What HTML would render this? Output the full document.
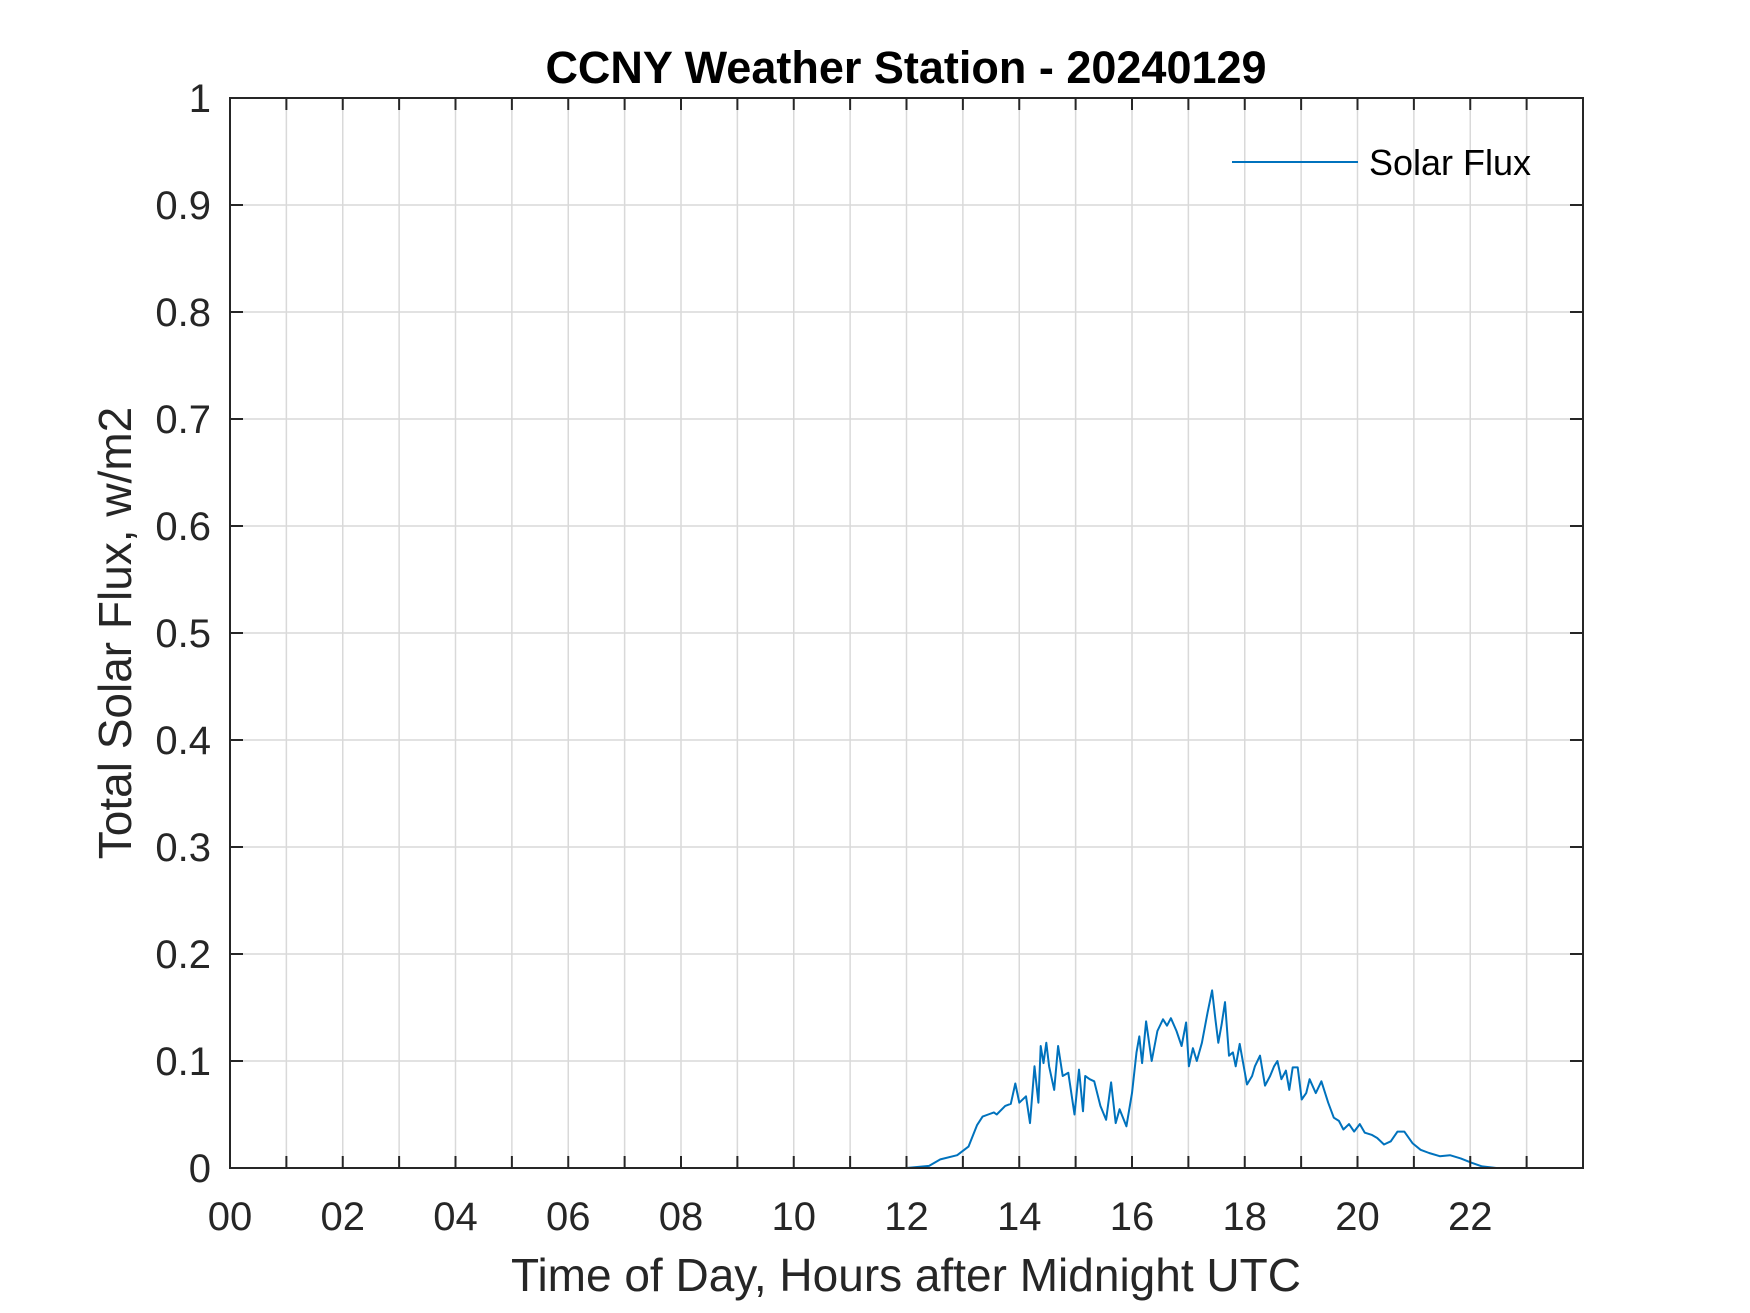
<!DOCTYPE html>
<html><head><meta charset="utf-8"><style>
html,body{margin:0;padding:0;background:#fff;}
svg{display:block;font-family:"Liberation Sans",Arial,sans-serif;}
</style></head><body>
<svg id="chart" width="1750" height="1313" viewBox="0 0 1750 1313" xmlns="http://www.w3.org/2000/svg">
<rect width="1750" height="1313" fill="#fff"/>
<g id="grid"></g>
<g id="series"></g>
<rect x="230" y="98" width="1353" height="1070" fill="none" stroke="#262626" stroke-width="2"/>
<g id="ticks"></g>
<text x="906" y="83" text-anchor="middle" font-size="45" font-weight="bold" fill="#000">CCNY Weather Station - 20240129</text>
<text x="906" y="1291" text-anchor="middle" font-size="46" fill="#262626">Time of Day, Hours after Midnight UTC</text>
<text transform="translate(131,633) rotate(-90)" text-anchor="middle" font-size="46" fill="#262626">Total Solar Flux, w/m2</text>
<g>
<line x1="1232" y1="162" x2="1358" y2="162" stroke="#0072BD" stroke-width="2"/>
<text x="1369" y="175" font-size="36" fill="#000">Solar Flux</text>
</g>
</svg>
<script>
const hours=[0,6,12,12.4,12.6,12.9,13.1,13.25,13.35,13.45,13.55,13.6,13.75,13.85,13.93,14.0,14.12,14.19,14.27,14.34,14.38,14.43,14.48,14.53,14.62,14.69,14.77,14.87,14.98,15.06,15.13,15.17,15.25,15.33,15.44,15.54,15.63,15.71,15.78,15.9,16.0,16.08,16.13,16.18,16.25,16.35,16.45,16.55,16.62,16.69,16.79,16.88,16.96,17.01,17.08,17.15,17.24,17.34,17.42,17.48,17.53,17.59,17.65,17.72,17.79,17.84,17.91,18.04,18.13,18.18,18.27,18.36,18.45,18.52,18.58,18.65,18.73,18.79,18.85,18.94,19.01,19.09,19.15,19.26,19.36,19.48,19.58,19.67,19.75,19.85,19.94,20.04,20.13,20.25,20.35,20.47,20.59,20.71,20.83,20.98,21.12,21.27,21.46,21.64,21.83,22.02,22.21,22.46,23,24];
const flux=[0,0,0,0.002,0.008,0.012,0.02,0.04,0.048,0.05,0.052,0.05,0.058,0.06,0.079,0.061,0.067,0.042,0.095,0.061,0.114,0.098,0.117,0.095,0.073,0.114,0.086,0.089,0.05,0.092,0.053,0.086,0.083,0.081,0.058,0.045,0.08,0.042,0.055,0.039,0.07,0.108,0.123,0.098,0.137,0.1,0.128,0.139,0.133,0.14,0.128,0.114,0.136,0.095,0.112,0.1,0.117,0.145,0.166,0.139,0.117,0.134,0.155,0.105,0.108,0.095,0.116,0.078,0.086,0.095,0.105,0.077,0.086,0.095,0.1,0.083,0.091,0.073,0.094,0.094,0.064,0.07,0.083,0.07,0.081,0.061,0.047,0.044,0.036,0.041,0.034,0.041,0.033,0.031,0.028,0.022,0.025,0.034,0.034,0.023,0.017,0.014,0.011,0.012,0.009,0.005,0.0015,0,0,0];
const xTickLabels=["00","02","04","06","08","10","12","14","16","18","20","22"];
const yTickLabels=["0","0.1","0.2","0.3","0.4","0.5","0.6","0.7","0.8","0.9","1"];
const L=230,R=1583,T=98,B=1168;
const xs=h=>L+(R-L)*h/24;
const ys=v=>B-(B-T)*v/1;
const NS="http://www.w3.org/2000/svg";
function mk(tag,parent){const e=document.createElementNS(NS,tag);document.getElementById(parent).appendChild(e);return e;}
for(let h=1;h<24;h++){
  const g=mk('line','grid');
  
  
  g.setAttribute('x1',xs(h));g.setAttribute('x2',xs(h));g.setAttribute('y1',T);g.setAttribute('y2',B);
  g.setAttribute('stroke','#d9d9d9');g.setAttribute('stroke-width','1.5');
  for(const [y1,y2] of [[B,B-12],[T,T+12]]){
    const t=mk('line','ticks');
    
    
    t.setAttribute('x1',xs(h));t.setAttribute('x2',xs(h));t.setAttribute('y1',y1);t.setAttribute('y2',y2);
    t.setAttribute('stroke','#262626');t.setAttribute('stroke-width','2');
  }
}
xTickLabels.forEach((s,i)=>{
  const t=mk('text','ticks');
  
  
  t.setAttribute('x',xs(i*2));t.setAttribute('y',1230);t.setAttribute('text-anchor','middle');
  t.setAttribute('font-size','40');t.setAttribute('fill','#262626');t.textContent=s;
});
yTickLabels.forEach((s,i)=>{
  const v=i/10;
  if(i>0&&i<10){
    const g=mk('line','grid');
    
    
    g.setAttribute('x1',L);g.setAttribute('x2',R);g.setAttribute('y1',ys(v));g.setAttribute('y2',ys(v));
    g.setAttribute('stroke','#d9d9d9');g.setAttribute('stroke-width','1.5');
    for(const [x1,x2] of [[L,L+13],[R,R-13]]){
      const t=mk('line','ticks');
      
      
      t.setAttribute('x1',x1);t.setAttribute('x2',x2);t.setAttribute('y1',ys(v));t.setAttribute('y2',ys(v));
      t.setAttribute('stroke','#262626');t.setAttribute('stroke-width','2');
    }
  }
  const t=mk('text','ticks');
  
  
  t.setAttribute('x',211);t.setAttribute('y',ys(v)+14);t.setAttribute('text-anchor','end');
  t.setAttribute('font-size','40');t.setAttribute('fill','#262626');t.textContent=s;
});
const p=mk('polyline','series');


p.setAttribute('points',hours.map((h,i)=>xs(h).toFixed(1)+','+ys(flux[i]).toFixed(1)).join(' '));
p.setAttribute('fill','none');p.setAttribute('stroke','#0072BD');p.setAttribute('stroke-width','2');p.setAttribute('stroke-linejoin','round');
</script>
</body></html>
